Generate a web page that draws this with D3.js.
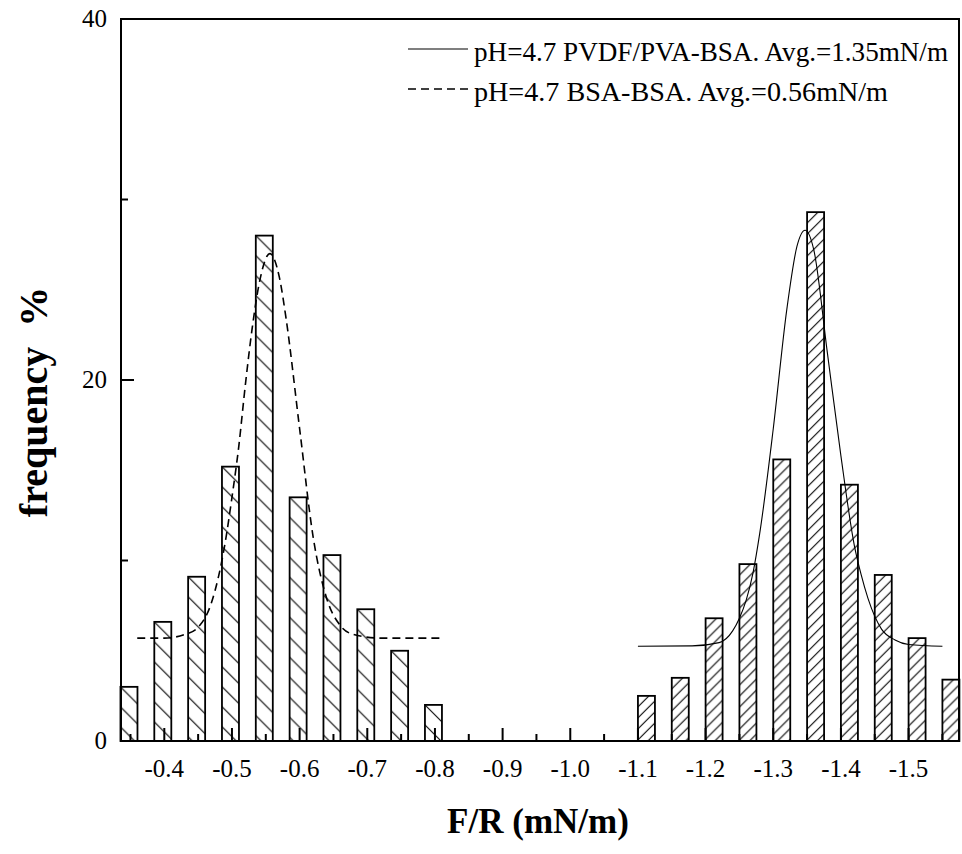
<!DOCTYPE html>
<html><head><meta charset="utf-8">
<script src="https://cdn.jsdelivr.net/npm/d3@7/dist/d3.min.js"></script>
<style>body{margin:0;background:#fff}svg{display:block}</style>
</head><body><svg id="c" width="962" height="854"></svg>
<script>
// ---- data ----
const bsaBins = [-0.35,-0.40,-0.45,-0.50,-0.55,-0.60,-0.65,-0.70,-0.75,-0.80];
const bsaFreq = [3.0,6.6,9.1,15.2,28.0,13.5,10.3,7.3,5.0,2.0];
const pvdfBins = [-1.10,-1.15,-1.20,-1.25,-1.30,-1.35,-1.40,-1.45,-1.50,-1.55];
const pvdfFreq = [2.5,3.5,6.8,9.8,15.6,29.3,14.2,9.2,5.7,3.4];
const bsaFitX = [-0.36,-0.40,-0.43,-0.45,-0.47,-0.49,-0.50,-0.51,-0.52,-0.53,-0.54,-0.556,-0.57,-0.58,-0.60,-0.62,-0.64,-0.66,-0.68,-0.72,-0.81];
const bsaFitY = [5.7,5.7,5.9,6.3,7.7,11.0,13.5,16.3,19.8,22.9,25.3,27.0,25.7,23.4,17.3,11.3,7.9,6.4,5.9,5.7,5.7];
const pvdfFitX = [-1.10,-1.18,-1.22,-1.24,-1.25,-1.26,-1.27,-1.28,-1.30,-1.32,-1.335,-1.347,-1.36,-1.38,-1.40,-1.42,-1.43,-1.44,-1.46,-1.48,-1.50,-1.55];
const pvdfFitY = [5.25,5.27,5.45,6.1,6.8,7.8,9.3,11.5,17.3,23.9,27.4,28.3,27.2,21.5,15.8,10.8,9.2,7.9,6.2,5.6,5.35,5.25];
const xMajor = [-0.4,-0.5,-0.6,-0.7,-0.8,-0.9,-1.0,-1.1,-1.2,-1.3,-1.4,-1.5];
const xMinor = [-0.35,-0.45,-0.55,-0.65,-0.75,-0.85,-0.95,-1.05,-1.15,-1.25,-1.35,-1.45,-1.55];
const yMajor = [0,20,40];
const yMinor = [10,30];
const legendLabels = ["pH=4.7 PVDF/PVA-BSA. Avg.=1.35mN/m","pH=4.7 BSA-BSA. Avg.=0.56mN/m"];

// ---- layout ----
const L=121, R=960, T=19, B=741;
const svg = d3.select("#c");
const x = d3.scaleLinear().domain([-0.336,-1.576]).range([L,R]);
const y = d3.scaleLinear().domain([0,40]).range([B,T]);
const serif = "'Liberation Serif','Times New Roman',serif";
const defs = svg.append("defs");
const barW = 17;

function drawBars(bins, freq, name, shift, period, back){
  bins.forEach((v,i)=>{
    const bx = x(v)+shift, by = y(freq[i]);
    const id = name+i;
    const p = defs.append("pattern").attr("id",id).attr("patternUnits","userSpaceOnUse")
      .attr("x",bx).attr("y",by).attr("width",period).attr("height",period);
    const s=period;
    const d = back
      ? `M-4,-4L${s+4},${s+4}M-4,${s-4}L4,${s+4}M${s-4},-4L${s+4},4`
      : `M-4,${s+4}L${s+4},-4M-4,4L4,-4M${s-4},${s+4}L${s+4},${s-4}`;
    p.append("path").attr("d",d).attr("stroke","#000").attr("stroke-width",1.1).attr("fill","none");
    svg.append("rect").attr("x",bx).attr("y",by).attr("width",barW).attr("height",y(0)-by)
      .attr("fill","#fff");
    svg.append("rect").attr("x",bx).attr("y",by).attr("width",barW).attr("height",y(0)-by)
      .attr("fill",`url(#${id})`).attr("stroke","#000").attr("stroke-width",1.8);
  });
}
drawBars(bsaBins, bsaFreq, "hb", -10, 20, true);
drawBars(pvdfBins, pvdfFreq, "hp", 0, 11, false);

const line = d3.line().x(d=>x(d[0])).y(d=>y(d[1])).curve(d3.curveMonotoneX);
svg.append("path").datum(bsaFitX.map((v,i)=>[v,bsaFitY[i]])).attr("d",line)
  .attr("fill","none").attr("stroke","#000").attr("stroke-width",1.6).attr("stroke-dasharray","8,5");
svg.append("path").datum(pvdfFitX.map((v,i)=>[v,pvdfFitY[i]])).attr("d",line)
  .attr("fill","none").attr("stroke","#000").attr("stroke-width",1.1);

// ---- axes ----
const ax = svg.append("g").attr("stroke","#000").attr("stroke-width",2);
xMajor.forEach(v=>ax.append("line").attr("x1",x(v)).attr("x2",x(v)).attr("y1",B).attr("y2",B-13));
xMinor.forEach(v=>ax.append("line").attr("x1",x(v)).attr("x2",x(v)).attr("y1",B).attr("y2",B-7));
yMajor.forEach(v=>ax.append("line").attr("x1",L).attr("x2",L+13).attr("y1",y(v)).attr("y2",y(v)));
yMinor.forEach(v=>ax.append("line").attr("x1",L).attr("x2",L+7).attr("y1",y(v)).attr("y2",y(v)));
svg.append("rect").attr("x",L).attr("y",T).attr("width",R-1-L).attr("height",B-T)
  .attr("fill","none").attr("stroke","#000").attr("stroke-width",2);

svg.append("g").selectAll("text").data(xMajor).join("text")
  .attr("x",d=>x(d)).attr("y",777).attr("text-anchor","middle")
  .attr("font-family",serif).attr("font-size",25).text(d=>d.toFixed(1));
svg.append("g").selectAll("text").data(yMajor).join("text")
  .attr("x",107).attr("y",d=>y(d)+8).attr("text-anchor","end")
  .attr("font-family",serif).attr("font-size",25).text(d=>d);

svg.append("text").attr("x",538).attr("y",833).attr("text-anchor","middle")
  .attr("font-family",serif).attr("font-weight","bold").attr("font-size",35).text("F/R (mN/m)");
svg.append("text").attr("transform","translate(47,402) rotate(-90)").attr("text-anchor","middle")
  .attr("font-family",serif).attr("font-weight","bold").attr("font-size",40)
  .attr("xml:space","preserve").style("white-space","pre").text("frequency  %");

// ---- legend ----
const lg = svg.append("g");
lg.append("line").attr("x1",408).attr("x2",468).attr("y1",49).attr("y2",49).attr("stroke","#000").attr("stroke-width",1.1);
lg.append("line").attr("x1",408).attr("x2",468).attr("y1",89).attr("y2",89).attr("stroke","#000").attr("stroke-width",1.6).attr("stroke-dasharray","8,5");
const legendLen = [474, 414];
legendLabels.forEach((t,i)=>lg.append("text").attr("x",474).attr("y",61+40*i)
  .attr("font-family",serif).attr("font-size",26.5)
  .attr("textLength",legendLen[i]).attr("lengthAdjust","spacingAndGlyphs").text(t));
</script></body></html>
